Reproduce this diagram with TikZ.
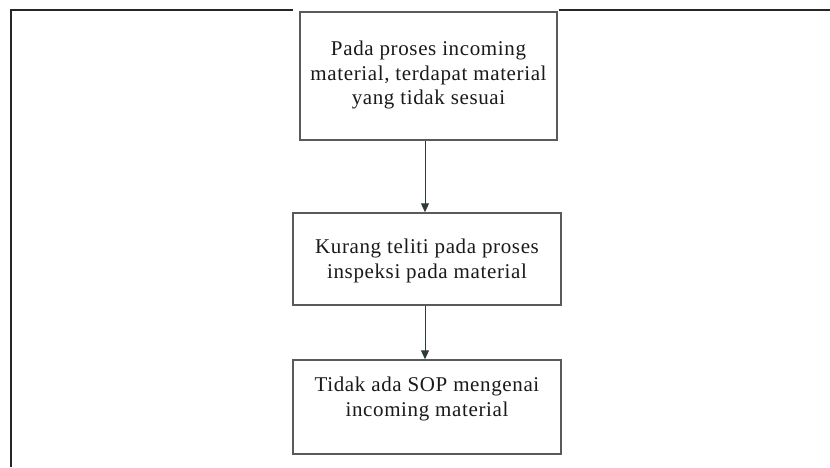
\documentclass[tikz,border=0pt]{standalone}
\usepackage{fontspec}
\setmainfont{Liberation Serif}[LetterSpace=3]
\usetikzlibrary{arrows.meta}
\definecolor{edgegray}{HTML}{5A5A5A}
\definecolor{framedark}{HTML}{262626}
\definecolor{arrowdark}{HTML}{2E3B36}
\definecolor{inkdark}{HTML}{1A1A1A}
\tikzset{
  stepbox/.style={draw=edgegray, line width=1.5pt, fill=white, inner sep=0pt},
  steptext/.style={align=center, text=inkdark, inner sep=0pt,
    font=\fontsize{21}{24.5}\selectfont},
  flow/.style={draw=arrowdark, line width=1pt,
    -{Triangle[length=9pt,width=8pt]}},
  frameline/.style={draw=framedark, line width=1.6pt}
}
\begin{document}
\begin{tikzpicture}[x=1pt,y=-1pt]
\useasboundingbox (0,0) rectangle (830,467);
% open outer frame: left side and top edge, broken around the first box
\coordinate (fbl) at (11,467);
\coordinate (ftl) at (11,10);
\coordinate (fga) at (293,10);
\coordinate (fgb) at (559,10);
\coordinate (ftr) at (830,10);
\draw[frameline] (fbl) -- (ftl) -- (fga);
\draw[frameline] (fgb) -- (ftr);
% process boxes
\node[stepbox, minimum width=257pt, minimum height=128pt] (b1) at (428.5,76) {};
\node[stepbox, minimum width=268pt, minimum height=92pt] (b2) at (427,259) {};
\node[stepbox, minimum width=268pt, minimum height=94pt] (b3) at (427,407) {};
% box texts
\node[steptext] (t1) at (428.5,75) {Pada proses incoming\\material, terdapat material\\yang tidak sesuai};
\node[steptext] (t2) at (427,261) {Kurang teliti pada proses\\inspeksi pada material};
\node[steptext] (t3) at (427,399) {Tidak ada SOP mengenai\\incoming material};
% vertical axis shared by the connectors
\coordinate (ax) at (425,0);
\draw[flow] (b1.south -| ax) -- (b2.north -| ax);
\draw[flow] (b2.south -| ax) -- (b3.north -| ax);
\end{tikzpicture}
\end{document}
